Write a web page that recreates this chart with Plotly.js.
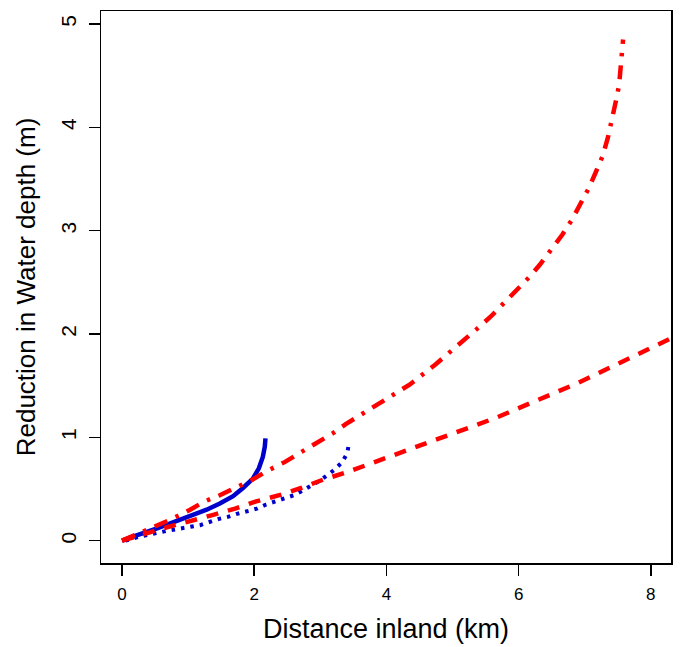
<!DOCTYPE html>
<html>
<head>
<meta charset="utf-8">
<script src="https://cdn.plot.ly/plotly-3.0.1.min.js"></script>
<style>html,body{margin:0;padding:0;background:#fff;}#chart{width:680px;height:647px;}</style>
</head>
<body>
<div id="chart"></div>
<script>
// Red dash-dot curve
const dashdotX = [0, 0.72, 1.03, 1.25, 1.48, 1.71, 1.97, 2.21, 2.46, 2.69, 2.93, 3.19, 3.39, 3.86, 4.35, 4.75, 5.18, 5.37, 5.58, 5.75, 5.96, 6.16, 6.32, 6.49, 6.66, 6.81, 6.94, 7.06, 7.17, 7.27, 7.35, 7.41, 7.47, 7.52, 7.55, 7.58];
const dashdotY = [0, 0.20, 0.30, 0.38, 0.44, 0.51, 0.59, 0.68, 0.76, 0.85, 0.94, 1.04, 1.13, 1.31, 1.51, 1.71, 1.94, 2.05, 2.17, 2.28, 2.41, 2.55, 2.67, 2.81, 2.96, 3.11, 3.26, 3.41, 3.57, 3.72, 3.90, 4.06, 4.25, 4.41, 4.60, 4.85];
// Red dashed curve
const dashedX = [0, 0.68, 1.38, 1.71, 2.03, 2.38, 2.71, 3.04, 3.39, 4.0, 4.35, 5.66, 6.91, 8.22, 8.31];
const dashedY = [0, 0.13, 0.25, 0.31, 0.38, 0.44, 0.51, 0.59, 0.66, 0.80, 0.88, 1.19, 1.53, 1.94, 1.96];
// Blue solid curve
const solidX = [0, 0.12, 0.53, 1.03, 1.28, 1.48, 1.68, 1.83, 1.98, 2.07, 2.13, 2.16, 2.17];
const solidY = [0, 0.03, 0.12, 0.24, 0.30, 0.36, 0.43, 0.51, 0.60, 0.70, 0.81, 0.91, 0.99];
// Blue dotted curve
const dottedX = [0.05, 0.27, 0.72, 1.18, 1.46, 1.60, 1.74, 1.89, 2.04, 2.18, 2.32, 2.46, 2.60, 2.72, 2.86, 2.99, 3.12, 3.22, 3.33, 3.41, 3.43];
const dottedY = [0, 0.04, 0.10, 0.15, 0.21, 0.23, 0.26, 0.29, 0.31, 0.35, 0.38, 0.41, 0.44, 0.48, 0.53, 0.58, 0.64, 0.69, 0.76, 0.85, 0.94];

const xTicks = [0, 2, 4, 6, 8];
const yTicks = [0, 1, 2, 3, 4, 5];

const RED = '#FF0000';
const BLUE = '#0000CD';

const traces = [
  {x: solidX, y: solidY, mode: 'lines', line: {color: BLUE, width: 4.5, shape: 'linear'}},
  {x: dottedX, y: dottedY, mode: 'lines', line: {color: BLUE, width: 4, dash: '3.5px,6px', shape: 'linear'}},
  {x: dashedX, y: dashedY, mode: 'lines', line: {color: RED, width: 4.5, dash: '12px,10px', shape: 'linear'}},
  {x: dashdotX, y: dashdotY, mode: 'lines', line: {color: RED, width: 4.5, dash: '14px,9px,3.5px,9px', shape: 'linear'}}
];

const font = {family: '"Liberation Sans", Arial, Helvetica, sans-serif', color: '#000'};

const layout = {
  width: 680, height: 647,
  margin: {l: 101, r: 9, t: 11, b: 84},
  paper_bgcolor: '#fff', plot_bgcolor: '#fff',
  showlegend: false,
  font: font,
  xaxis: {
    range: [-0.318, 8.305],
    tickvals: xTicks, ticktext: xTicks.map(String),
    ticks: 'outside', ticklen: 11, tickwidth: 1.5, tickcolor: '#000',
    showline: true, mirror: true, linecolor: '#000', linewidth: 1.5,
    showgrid: false, zeroline: false,
    tickfont: Object.assign({}, font, {size: 17}),
    ticklabelstandoff: 4,
    title: {text: 'Distance inland (km)', font: Object.assign({}, font, {size: 27}), standoff: 16}
  },
  yaxis: {
    range: [-0.216, 5.126],
    tickvals: yTicks, ticktext: yTicks.map(String),
    tickangle: -90,
    ticks: 'outside', ticklen: 11, tickwidth: 1.5, tickcolor: '#000',
    showline: true, mirror: true, linecolor: '#000', linewidth: 1.5,
    showgrid: false, zeroline: false,
    tickfont: Object.assign({}, font, {size: 21}),
    ticklabelstandoff: 4,
    title: {text: 'Reduction in Water depth (m)', font: Object.assign({}, font, {size: 26}), standoff: 14}
  }
};

Plotly.newPlot('chart', traces, layout, {displayModeBar: false, staticPlot: true});
</script>
</body>
</html>
